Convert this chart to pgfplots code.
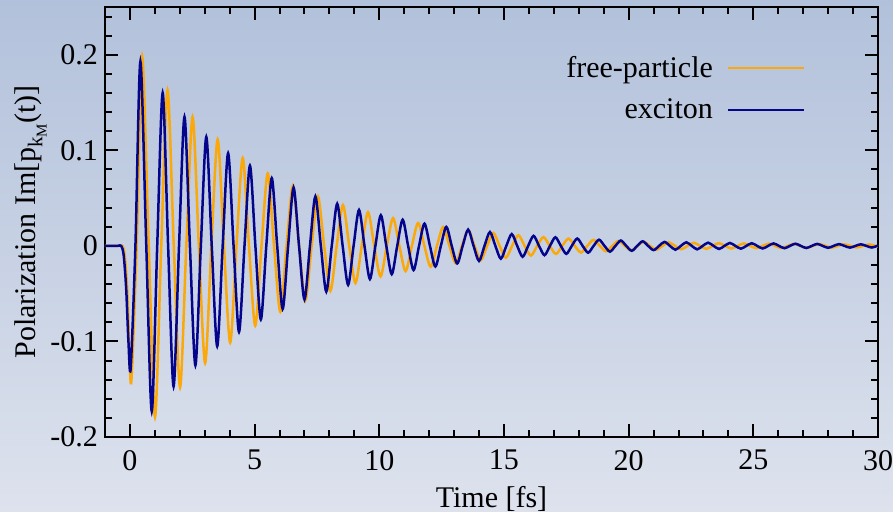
\documentclass[border=0pt]{standalone}
\usepackage{fontspec}
\setmainfont{Liberation Serif}
\usepackage{pgfplots}
\pgfplotsset{compat=1.18}
\definecolor{fp}{RGB}{250,168,10}
\definecolor{ex}{RGB}{5,5,140}
\definecolor{bgtop}{RGB}{178,193,219}
\definecolor{bgbot}{RGB}{221,226,237}
\newcommand\fs{\fontsize{15}{18}\selectfont}
\begin{document}
\begin{tikzpicture}
\shade[top color=bgtop, bottom color=bgbot] (-52.5pt,-37pt) rectangle (394pt,218.5pt);
\begin{axis}[
  at={(0pt,0pt)}, anchor=south west,
  scale only axis, width=386.5pt, height=215pt,
  xmin=-1, xmax=30, ymin=-0.2, ymax=0.25,
  xtick={0,5,10,15,20,25,30},
  minor xtick={-1,1,2,3,4,6,7,8,9,11,12,13,14,16,17,18,19,21,22,23,24,26,27,28,29},
  ytick={-0.2,-0.1,0,0.1,0.2},
  yticklabels={-0.2,-0.1,0,0.1,0.2},
  minor ytick={-0.18,-0.16,-0.14,-0.12,-0.08,-0.06,-0.04,-0.02,0.02,0.04,0.06,0.08,0.12,0.14,0.16,0.18,0.22,0.24},
  tick align=inside,
  major tick length=6.5pt, minor tick length=3.5pt,
  every tick/.style={black, line width=1pt},
  axis line style={black, line width=1pt},
  tick label style={font=\fs},
  xticklabel style={yshift=-3pt},
  /pgf/number format/assume math mode=true,
  label style={font=\fs},
  xlabel={Time [fs]},
  xlabel style={yshift=-1pt},
  ylabel={Polarization Im[p\raisebox{-0.5ex}{\fontsize{10.5}{10}\selectfont k\raisebox{-0.45ex}{\fontsize{7.5}{8}\selectfont M}}(t)]},
  ylabel style={yshift=-5pt},
  legend style={draw=none, fill=none, at={(axis description cs:0.914,0.905)}, anchor=north east, font=\fs, row sep=5pt},
  legend cell align=right,
  legend plot pos=right,
  legend image code/.code={\path (0pt,0pt); \draw[#1, line width=1pt] (5pt,0pt) -- (43pt,0pt);},
]
\addplot[fp, line width=1.25pt, smooth] table[x=t,y=y] {
t y
-1 0
-0.5 0
-0.3 0
-0.2 -0.012
-0.1 -0.05
-0.02 -0.11
0.06 -0.140
0.27 0
0.49 0.198
0.754 0
1.005 -0.179
1.256 0
1.508 0.163
1.759 0
2.010 -0.148
2.261 0
2.513 0.135
2.764 0
3.015 -0.1225
3.266 0
3.518 0.1113
3.769 0
4.020 -0.1011
4.271 0
4.523 0.0919
4.774 0
5.025 -0.0835
5.276 0
5.528 0.0758
5.779 0
6.030 -0.0689
6.281 0
6.533 0.0626
6.784 0
7.035 -0.0569
7.286 0
7.538 0.0517
7.789 0
8.040 -0.0470
8.291 0
8.543 0.0427
8.794 0
9.045 -0.0388
9.296 0
9.548 0.0352
9.799 0
10.050 -0.0320
10.301 0
10.553 0.0291
10.804 0
11.055 -0.0264
11.306 0
11.558 0.0240
11.809 0
12.060 -0.0218
12.311 0
12.563 0.0198
12.814 0
13.065 -0.0180
13.316 0
13.568 0.0164
13.819 0
14.070 -0.0149
14.321 0
14.573 0.0135
14.824 0
15.075 -0.0123
15.326 0
15.578 0.0112
15.829 0
16.080 -0.0101
16.331 0
16.583 0.0092
16.834 0
17.085 -0.0084
17.336 0
17.588 0.0076
17.839 0
18.090 -0.0069
18.341 0
18.593 0.0063
18.844 0
19.095 -0.0057
19.346 0
19.598 0.0052
19.849 0
20.100 -0.0047
20.351 0
20.603 0.0043
20.854 0
21.105 -0.0040
21.356 0
21.608 0.0037
21.859 0
22.110 -0.0035
22.361 0
22.613 0.0033
22.864 0
23.115 -0.0031
23.366 0
23.618 0.0029
23.869 0
24.120 -0.0027
24.371 0
24.623 0.0026
24.874 0
25.125 -0.0024
25.376 0
25.628 0.0023
25.879 0
26.130 -0.0022
26.381 0
26.633 0.0021
26.884 0
27.135 -0.0020
27.386 0
27.638 0.0019
27.889 0
28.140 -0.0018
28.391 0
28.643 0.0017
28.894 0
29.145 -0.0016
29.396 0
29.648 0.0015
29.899 0
30 -0.0006
};
\addlegendentry{free-particle}
\addplot[ex, line width=1.25pt, smooth] table[x=t,y=y] {
t y
-1 0
-0.5 0
-0.35 0
-0.25 -0.01
-0.15 -0.045
-0.06 -0.10
0.03 -0.128
0.22 0
0.42 0.193
0.656 0
0.875 -0.173
1.094 0
1.3125 0.160
1.531 0
1.75 -0.147
1.969 0
2.1875 0.135
2.406 0
2.625 -0.125
2.844 0
3.0625 0.114
3.281 0
3.5 -0.105
3.719 0
3.9375 0.097
4.156 0
4.375 -0.090
4.594 0
4.8125 0.084
5.031 0
5.25 -0.077
5.469 0
5.6875 0.071
5.906 0
6.125 -0.066
6.344 0
6.5625 0.061
6.781 0
7.0 -0.056
7.219 0
7.4375 0.0517
7.656 0
7.875 -0.0478
8.094 0
8.3125 0.0441
8.531 0
8.75 -0.0407
8.969 0
9.1875 0.0376
9.406 0
9.625 -0.0347
9.844 0
10.0625 0.0321
10.281 0
10.5 -0.0296
10.719 0
10.9375 0.0274
11.156 0
11.375 -0.0253
11.594 0
11.8125 0.0233
12.031 0
12.25 -0.0216
12.469 0
12.6875 0.0199
12.906 0
13.125 -0.0184
13.344 0
13.5625 0.0170
13.781 0
14.0 -0.0157
14.219 0
14.4375 0.0145
14.656 0
14.875 -0.0134
15.094 0
15.3125 0.0124
15.531 0
15.75 -0.0114
15.969 0
16.1875 0.0105
16.406 0
16.625 -0.0097
16.844 0
17.0625 0.0090
17.281 0
17.5 -0.0083
17.719 0
17.9375 0.0077
18.156 0
18.375 -0.0071
18.594 0
18.8125 0.0065
19.031 0
19.25 -0.0060
19.469 0
19.6875 0.0056
19.906 0
20.125 -0.0051
20.344 0
20.5625 0.0048
20.781 0
21.0 -0.0044
21.219 0
21.4375 0.0042
21.656 0
21.875 -0.0040
22.094 0
22.3125 0.0038
22.531 0
22.75 -0.0036
22.969 0
23.1875 0.0034
23.406 0
23.625 -0.0032
23.844 0
24.0625 0.0031
24.281 0
24.5 -0.0029
24.719 0
24.9375 0.0028
25.156 0
25.375 -0.0027
25.594 0
25.8125 0.0026
26.031 0
26.25 -0.0024
26.469 0
26.6875 0.0023
26.906 0
27.125 -0.0022
27.344 0
27.5625 0.0021
27.781 0
28.0 -0.0020
28.219 0
28.4375 0.0019
28.656 0
28.875 -0.0018
29.094 0
29.3125 0.0017
29.531 0
29.75 -0.0017
29.969 0
30 -0.0001
};
\addlegendentry{exciton}
\end{axis}
\pgfresetboundingbox
\useasboundingbox (-52.5pt,-37pt) rectangle (394pt,218.5pt);
\end{tikzpicture}
\end{document}
